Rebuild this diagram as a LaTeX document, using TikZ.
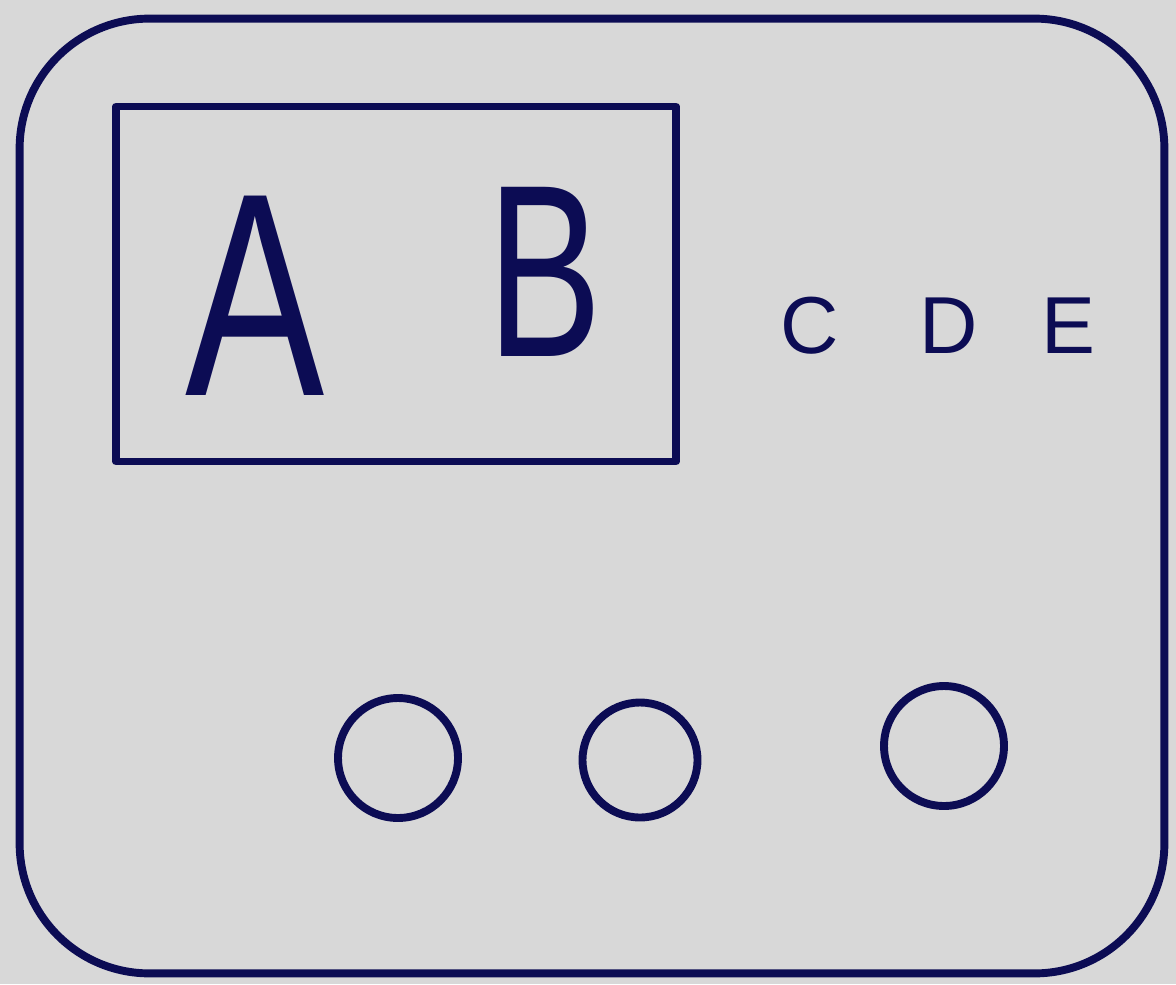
\documentclass[tikz,border=0pt]{standalone}
\usepackage{fontspec}
\setmainfont{Liberation Sans}
\usetikzlibrary{positioning}
\definecolor{sketchGray}{RGB}{216,216,216}
\definecolor{sketchNavy}{RGB}{12,12,84}

\begin{document}
\begin{tikzpicture}[
  x=0.02cm,y=-0.02cm,
  pen/.style={draw=sketchNavy,line width=4.5pt,line join=round,line cap=round},
  big/.style={text=sketchNavy,font=\fontsize{165}{170}\selectfont,inner sep=0pt},
  small/.style={text=sketchNavy,font=\fontsize{46}{50}\selectfont,inner sep=0pt},
  ring/.style={pen,circle,minimum size=2.4cm,inner sep=0pt}
]
  \useasboundingbox[fill=sketchGray] (0,0) rectangle (1176,984);
  % outer frame
  \node[pen,rounded corners=2.6cm,minimum width=22.9cm,minimum height=19.1cm] (frame) at (592,496) {};
  % inner box with A and B
  \node[pen,minimum width=11.2cm,minimum height=7.1cm] (box) at (396,284) {};
  \node[big,xscale=0.72] (a) at (255,296) {A};
  \node[big,font=\fontsize{140}{145}\selectfont,xscale=0.7] (b) at (545,272) {B};
  % loose letters
  \node[small] (c) at (810,326) {C};
  \node[small,right=1.6cm of c] (d) {D};
  \node[small,right=1.25cm of d] (e) {E};
  % circles
  \node[ring] (r1) at (398,758) {};
  \node[ring,minimum size=2.3cm] (r2) at (640,760) {};
  \node[ring] (r3) at (944,746) {};
\end{tikzpicture}
\end{document}
